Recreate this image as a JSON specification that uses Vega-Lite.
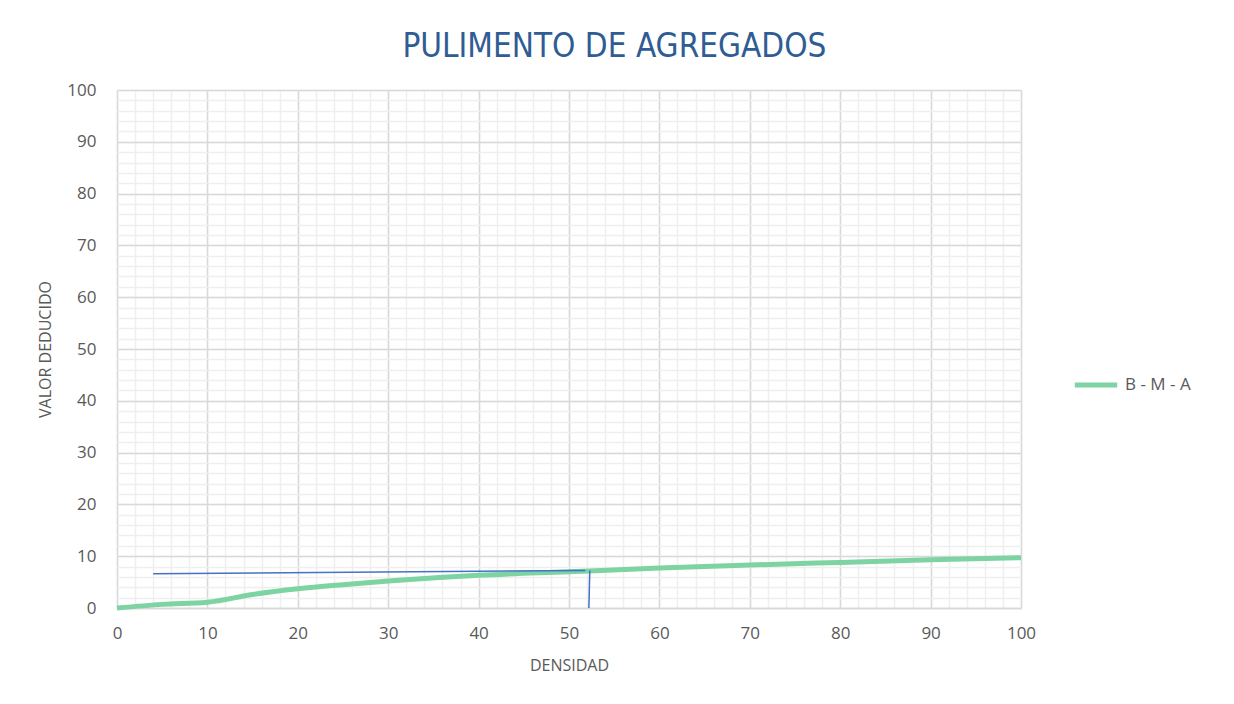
{
  "$schema": "https://vega.github.io/schema/vega-lite/v6.json",
  "width": 904,
  "height": 518,
  "autosize": {"type": "none"},
  "padding": {"left": 117, "top": 90, "right": 213, "bottom": 96},
  "background": "white",
  "title": {
    "text": "PULIMENTO DE AGREGADOS",
    "font": "DejaVu Sans Condensed",
    "fontSize": 33,
    "fontWeight": "normal",
    "color": "#2f5c94",
    "anchor": "middle",
    "frame": "bounds",
    "offset": 17
  },
  "config": {
    "view": {"stroke": null},
    "font": "Open Sans",
    "axis": {
      "labelFont": "Open Sans", "labelFontSize": 17, "labelColor": "#595959",
      "titleFont": "Open Sans", "titleFontSize": 16, "titleFontWeight": "normal", "titleColor": "#595959",
      "ticks": false, "labelFlush": false
    },
    "legend": {"labelFont": "Open Sans", "labelFontSize": 17, "labelColor": "#595959"}
  },
  "datasets": {
    "curve": [
      {"densidad": 0, "valor": 0, "serie": "B - M - A"},
      {"densidad": 5, "valor": 0.7, "serie": "B - M - A"},
      {"densidad": 10, "valor": 1.1, "serie": "B - M - A"},
      {"densidad": 15, "valor": 2.6, "serie": "B - M - A"},
      {"densidad": 20, "valor": 3.7, "serie": "B - M - A"},
      {"densidad": 25, "valor": 4.5, "serie": "B - M - A"},
      {"densidad": 30, "valor": 5.2, "serie": "B - M - A"},
      {"densidad": 40, "valor": 6.3, "serie": "B - M - A"},
      {"densidad": 50, "valor": 7.0, "serie": "B - M - A"},
      {"densidad": 60, "valor": 7.7, "serie": "B - M - A"},
      {"densidad": 70, "valor": 8.3, "serie": "B - M - A"},
      {"densidad": 80, "valor": 8.8, "serie": "B - M - A"},
      {"densidad": 90, "valor": 9.3, "serie": "B - M - A"},
      {"densidad": 100, "valor": 9.7, "serie": "B - M - A"}
    ],
    "guide": [
      {"densidad": 4, "valor": 6.6, "orden": 1},
      {"densidad": 51.8, "valor": 7.25, "orden": 2}
    ],
    "drop": [
      {"densidad": 52.3, "valor": 7.25, "orden": 1},
      {"densidad": 52.2, "valor": 0, "orden": 2}
    ]
  },
  "layer": [
    {
      "data": {"name": "curve"},
      "mark": {"type": "line", "opacity": 0},
      "encoding": {
        "x": {"field": "densidad", "type": "quantitative", "scale": {"domain": [0, 100], "nice": false},
          "axis": {"orient": "bottom", "values": [0,2,4,6,8,10,12,14,16,18,20,22,24,26,28,30,32,34,36,38,40,42,44,46,48,50,52,54,56,58,60,62,64,66,68,70,72,74,76,78,80,82,84,86,88,90,92,94,96,98,100],
            "grid": true, "gridColor": "#efefef", "gridWidth": 1.5, "labels": false, "domain": false, "title": null}},
        "y": {"field": "valor", "type": "quantitative", "scale": {"domain": [0, 100], "nice": false},
          "axis": {"orient": "left", "values": [0,2,4,6,8,10,12,14,16,18,20,22,24,26,28,30,32,34,36,38,40,42,44,46,48,50,52,54,56,58,60,62,64,66,68,70,72,74,76,78,80,82,84,86,88,90,92,94,96,98,100],
            "grid": true, "gridColor": "#efefef", "gridWidth": 1.5, "labels": false, "domain": false, "title": null}}
      }
    },
    {
      "data": {"name": "curve"},
      "mark": {"type": "line", "strokeWidth": 5, "interpolate": "monotone"},
      "encoding": {
        "x": {"field": "densidad", "type": "quantitative", "scale": {"domain": [0, 100], "nice": false},
          "axis": {"orient": "bottom", "values": [0,10,20,30,40,50,60,70,80,90,100], "grid": true, "gridColor": "#d9d9d9", "gridWidth": 1.5,
            "domain": true, "domainColor": "#d9d9d9", "domainWidth": 1.5, "labelPadding": 17,
            "title": "DENSIDAD", "titlePadding": 16}},
        "y": {"field": "valor", "type": "quantitative", "scale": {"domain": [0, 100], "nice": false},
          "axis": {"orient": "left", "values": [0,10,20,30,40,50,60,70,80,90,100], "grid": true, "gridColor": "#d9d9d9", "gridWidth": 1.5,
            "domain": false, "labelPadding": 21,
            "title": "VALOR DEDUCIDO", "titlePadding": 13}},
        "color": {"field": "serie", "type": "nominal", "scale": {"domain": ["B - M - A"], "range": ["#7dd3a2"]},
          "legend": {"orient": "none", "legendX": 955, "legendY": 271, "title": null, "symbolType": "stroke", "symbolStrokeWidth": 5, "symbolSize": 1800,
            "labelOffset": 5}}
      }
    },
    {
      "data": {"name": "guide"},
      "mark": {"type": "line", "strokeWidth": 1.5, "color": "#4472c4"},
      "encoding": {
        "x": {"field": "densidad", "type": "quantitative", "axis": null},
        "y": {"field": "valor", "type": "quantitative", "axis": null},
        "order": {"field": "orden"}
      }
    },
    {
      "data": {"name": "drop"},
      "mark": {"type": "line", "strokeWidth": 1.5, "color": "#4472c4"},
      "encoding": {
        "x": {"field": "densidad", "type": "quantitative", "axis": null},
        "y": {"field": "valor", "type": "quantitative", "axis": null},
        "order": {"field": "orden"}
      }
    }
  ],
  "resolve": {"axis": {"x": "independent", "y": "independent"}}
}
